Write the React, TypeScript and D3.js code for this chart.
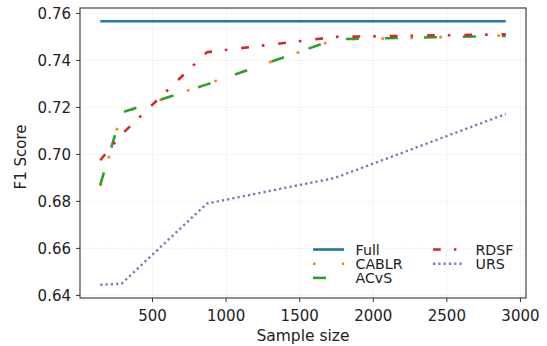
import React from "react";
import * as d3 from "d3";

const sampleSizes = [145, 290, 870, 1740, 2900];
const fullScores = [0.7567, 0.7567, 0.7567, 0.7567, 0.7567];
const cablrScores = [0.6865, 0.7175, 0.73, 0.7488, 0.7506];
const acvsScores = [0.687, 0.7178, 0.7298, 0.749, 0.7504];
const rdsfScores = [0.6975, 0.7085, 0.7435, 0.75, 0.7511];
const ursScores = [0.6445, 0.645, 0.6791, 0.69, 0.7172];
const seriesNames = ["Full", "CABLR", "ACvS", "RDSF", "URS"];
const xTicks = [500, 1000, 1500, 2000, 2500, 3000];
const yTicks = [0.64, 0.66, 0.68, 0.7, 0.72, 0.74, 0.76];

const W = 547;
const H = 346;
const L = 80, R = 526, T = 8, B = 298;
const FONT = "DejaVu Sans, sans-serif";

const styles = [
  { color: "#1f77b4", dash: null, width: 2.6 },
  { color: "#ff7f0e", dash: "2.6,26.4", width: 2.6 },
  { color: "#2ca02c", dash: "13,26", width: 2.6 },
  { color: "#d62728", dash: "7.8,13,2.6,13.9", width: 2.6 },
  { color: "#9467bd", dash: "2.2,3.1", width: 2.4 },
];

export default function App() {
  const allSeries = [fullScores, cablrScores, acvsScores, rdsfScores, ursScores];
  const xMin = d3.min(sampleSizes)!;
  const xMax = d3.max(sampleSizes)!;
  const xPad = (xMax - xMin) * 0.05;
  const yAll = allSeries.flat();
  const yMin = d3.min(yAll)!;
  const yMax = d3.max(yAll)!;
  const yPad = (yMax - yMin) * 0.05;

  const x = d3.scaleLinear().domain([xMin - xPad, xMax + xPad]).range([L, R]);
  const y = d3.scaleLinear().domain([yMin - yPad, yMax + yPad]).range([B, T]);

  const line = d3
    .line<[number, number]>()
    .x((d) => x(d[0]))
    .y((d) => y(d[1]));

  const legendItems = seriesNames.map((name, i) => {
    const col = i < 3 ? 0 : 1;
    const row = i < 3 ? i : i - 3;
    return { name, i, hx: col === 0 ? 313 : 433, ry: 249.5 + row * 14.2 };
  });

  return (
    <svg width={W} height={H} style={{ position: "absolute", left: 0, top: 0 }} fontFamily={FONT}>
      <rect x={0} y={0} width={W} height={H} fill="#ffffff" />
      {/* grid */}
      {xTicks.map((t) => (
        <line key={"gx" + t} x1={x(t)} x2={x(t)} y1={T} y2={B} stroke="#dcdcdc" strokeWidth={0.8} strokeDasharray="1,1.6" />
      ))}
      {yTicks.map((t) => (
        <line key={"gy" + t} x1={L} x2={R} y1={y(t)} y2={y(t)} stroke="#dcdcdc" strokeWidth={0.8} strokeDasharray="1,1.6" />
      ))}
      {/* series */}
      {allSeries.map((vals, i) => (
        <path
          key={seriesNames[i]}
          d={line(sampleSizes.map((s, j) => [s, vals[j]] as [number, number])) || ""}
          fill="none"
          stroke={styles[i].color}
          strokeWidth={styles[i].width}
          strokeDasharray={styles[i].dash || undefined}
        />
      ))}
      {/* spines */}
      <rect x={L} y={T} width={R - L} height={B - T} fill="none" stroke="#333" strokeWidth={1.1} />
      {/* x ticks */}
      {xTicks.map((t) => (
        <g key={"xt" + t}>
          <line x1={x(t)} x2={x(t)} y1={B} y2={B + 4} stroke="#333" strokeWidth={1} />
          <text x={x(t)} y={321} textAnchor="middle" fontSize={15} fill="#222">
            {t}
          </text>
        </g>
      ))}
      {/* y ticks */}
      {yTicks.map((t) => (
        <g key={"yt" + t}>
          <line x1={L - 4} x2={L} y1={y(t)} y2={y(t)} stroke="#333" strokeWidth={1} />
          <text x={71} y={y(t)} dy="0.36em" textAnchor="end" fontSize={15} fill="#222">
            {d3.format(".2f")(t)}
          </text>
        </g>
      ))}
      {/* axis labels */}
      <text x={(L + R) / 2} y={340.5} textAnchor="middle" fontSize={15.5} fill="#222">
        Sample size
      </text>
      <text transform={`translate(26,157) rotate(-90)`} textAnchor="middle" fontSize={15} fill="#222">
        F1 Score
      </text>
      {/* legend */}
      {legendItems.map((it) => (
        <g key={"lg" + it.name}>
          <line
            x1={it.hx}
            x2={it.hx + 31}
            y1={it.ry}
            y2={it.ry}
            stroke={styles[it.i].color}
            strokeWidth={styles[it.i].width}
            strokeDasharray={styles[it.i].dash || undefined}
          />
          <text x={it.hx + 42.5} y={it.ry} dy="0.36em" fontSize={14.2} fill="#222">
            {it.name}
          </text>
        </g>
      ))}
    </svg>
  );
}
